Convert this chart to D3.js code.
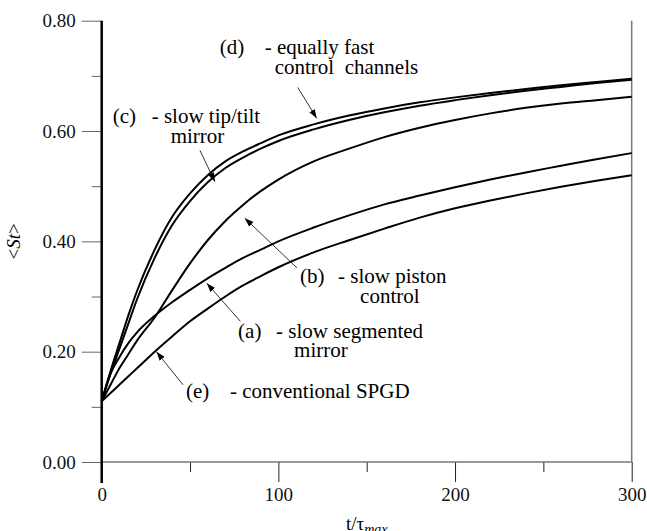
<!DOCTYPE html>
<html>
<head>
<meta charset="utf-8">
<script src="https://cdn.jsdelivr.net/npm/d3@7"></script>
<style>
  body { margin: 0; background: #fff; }
  text { font-family: "Liberation Serif", "Times New Roman", Times, serif; white-space: pre; }
</style>
</head>
<body>
<svg id="chart" width="647" height="531"></svg>
<script>
'use strict';

// ---- data ----
const tValues = [0, 5, 10, 15, 20, 30, 40, 50, 60, 70, 80, 90, 100, 120, 140, 160, 180, 200, 220, 240, 260, 280, 300];

const fastChannels = [0.11, 0.165, 0.215, 0.265, 0.31, 0.385, 0.445, 0.487, 0.52, 0.545, 0.563, 0.578, 0.592, 0.612, 0.628, 0.641, 0.652, 0.661, 0.669, 0.676, 0.683, 0.689, 0.695];
const slowTipTilt = [0.11, 0.16, 0.205, 0.25, 0.295, 0.37, 0.43, 0.473, 0.507, 0.533, 0.552, 0.568, 0.582, 0.603, 0.62, 0.634, 0.646, 0.656, 0.665, 0.673, 0.68, 0.687, 0.693];
const slowPiston = [0.11, 0.14, 0.17, 0.195, 0.22, 0.262, 0.312, 0.36, 0.402, 0.437, 0.466, 0.491, 0.512, 0.545, 0.568, 0.589, 0.606, 0.62, 0.632, 0.642, 0.65, 0.656, 0.662];
const slowSegmented = [0.11, 0.16, 0.19, 0.215, 0.235, 0.265, 0.29, 0.312, 0.333, 0.352, 0.37, 0.385, 0.40, 0.425, 0.447, 0.467, 0.483, 0.498, 0.512, 0.525, 0.537, 0.549, 0.56];
const conventional = [0.11, 0.125, 0.14, 0.155, 0.17, 0.2, 0.228, 0.255, 0.278, 0.3, 0.32, 0.337, 0.353, 0.38, 0.402, 0.423, 0.443, 0.46, 0.474, 0.487, 0.499, 0.51, 0.52];

const xMajorTicks = [0, 100, 200, 300];
const xMinorTicks = [50, 150, 250];
const yMajorTicks = [0, 0.2, 0.4, 0.6, 0.8];
const yMinorTicks = [0.1, 0.3, 0.5, 0.7];

// annotation texts and the points (data units) the arrows run between
const noteTags = ['(d)', '(c)', '(b)', '(a)', '(e)'];
const noteLines = [
    ['- equally fast', 'control  channels'],
    ['- slow tip/tilt', 'mirror'],
    ['- slow piston', 'control'],
    ['- slow segmented', 'mirror'],
    ['- conventional SPGD']
];
const noteAnchors = [[66.8, 0.739], [6.2, 0.614], [112.3, 0.324], [77.2, 0.225], [47.7, 0.116]];
const arrowFrom = [[111, 0.679], [55.6, 0.565], [110.5, 0.352], [78.5, 0.255], [46, 0.14]];
const arrowTo = [[121.7, 0.623], [64.1, 0.508], [81, 0.442], [59.5, 0.324], [31, 0.2]];

// ---- layout ----
const svg = d3.select('#chart');
const x = d3.scaleLinear([0, 300], [101.7, 631.7]);
const y = d3.scaleLinear([0, 0.8], [462, 20.7]);
const noteSize = 21;
const dashOffset = [45, 39, 38, 38, 44];
const secondOffset = [55, 58, 60, 56, 0];

const series = [fastChannels, slowTipTilt, slowPiston, slowSegmented, conventional];

// ---- axes ----
const yMajor = svg.append('g')
    .attr('transform', `translate(${x(0)},0)`)
    .call(d3.axisLeft(y).tickValues(yMajorTicks).tickSize(20).tickPadding(6).tickFormat(d3.format('.2f')));
const yMinor = svg.append('g')
    .attr('transform', `translate(${x(0)},0)`)
    .call(d3.axisLeft(y).tickValues(yMinorTicks).tickSize(10).tickFormat(''));
const xMajor = svg.append('g')
    .attr('transform', `translate(0,${y(0)})`)
    .call(d3.axisBottom(x).tickValues(xMajorTicks).tickSize(20).tickPadding(6).tickFormat(d3.format('d')));
const xMinor = svg.append('g')
    .attr('transform', `translate(0,${y(0)})`)
    .call(d3.axisBottom(x).tickValues(xMinorTicks).tickSize(10).tickFormat(''));

for (const g of [yMajor, yMinor, xMajor, xMinor]) {
    g.attr('font-family', null);
    g.select('.domain').remove();
    g.selectAll('text').attr('font-size', 19).attr('fill', '#111');
}
yMajor.selectAll('line').attr('stroke', '#666');
yMinor.selectAll('line').attr('stroke', '#666');
xMajor.selectAll('line').attr('stroke', '#222');
xMinor.selectAll('line').attr('stroke', '#222');

// bottom line (grey) and right border
svg.append('line')
    .attr('x1', x(0)).attr('x2', x(300))
    .attr('y1', y(0)).attr('y2', y(0))
    .attr('stroke', '#777').attr('stroke-width', 1.5);
svg.append('line')
    .attr('x1', x(300)).attr('x2', x(300))
    .attr('y1', y(0.8)).attr('y2', y(0))
    .attr('stroke', '#777').attr('stroke-width', 1.5);
// left axis line, thick black, running through the 0 tick
svg.append('line')
    .attr('x1', x(0)).attr('x2', x(0))
    .attr('y1', y(0.8)).attr('y2', y(0) + 21)
    .attr('stroke', '#000').attr('stroke-width', 2.5);

// ---- curves ----
const line = d3.line()
    .x((d, i) => x(tValues[i]))
    .y(d => y(d))
    .curve(d3.curveMonotoneX);

svg.append('g')
    .selectAll('path')
    .data(series)
    .join('path')
    .attr('d', line)
    .attr('fill', 'none')
    .attr('stroke', '#000')
    .attr('stroke-width', 2);

// ---- annotations ----
svg.append('defs').append('marker')
    .attr('id', 'head')
    .attr('viewBox', '0 0 10 10')
    .attr('refX', 10).attr('refY', 5)
    .attr('markerWidth', 9).attr('markerHeight', 9)
    .attr('markerUnits', 'userSpaceOnUse')
    .attr('orient', 'auto')
    .append('path').attr('d', 'M0,1.5 L10,5 L0,8.5 Z').attr('fill', '#000');

const noteG = svg.append('g').attr('font-size', noteSize);
noteTags.forEach((tag, i) => {
    const px = x(noteAnchors[i][0]), py = y(noteAnchors[i][1]);
    noteG.append('text').attr('x', px).attr('y', py).text(tag);
    noteG.append('text').attr('x', px + dashOffset[i]).attr('y', py).text(noteLines[i][0]);
    if (noteLines[i][1]) {
        noteG.append('text')
            .attr('x', px + secondOffset[i]).attr('y', py + 19.5)
            .text(noteLines[i][1]);
    }
    noteG.append('line')
        .attr('x1', x(arrowFrom[i][0])).attr('y1', y(arrowFrom[i][1]))
        .attr('x2', x(arrowTo[i][0])).attr('y2', y(arrowTo[i][1]))
        .attr('stroke', '#000').attr('stroke-width', 0.8)
        .attr('marker-end', 'url(#head)');
});

// ---- axis titles ----
const yTitle = svg.append('text')
    .attr('transform', `translate(20,${y(0.4)}) rotate(-90)`)
    .attr('text-anchor', 'middle')
    .attr('font-size', 19);
yTitle.append('tspan').text('<');
yTitle.append('tspan').attr('font-style', 'italic').text('St');
yTitle.append('tspan').text('>');

const xTitle = svg.append('text')
    .attr('x', x(150)).attr('y', 530)
    .attr('text-anchor', 'middle')
    .attr('font-size', 19);
xTitle.append('tspan').text('t/τ');
xTitle.append('tspan').attr('font-style', 'italic').attr('font-size', 14).attr('dy', 4).text('max');
</script>
</body>
</html>
